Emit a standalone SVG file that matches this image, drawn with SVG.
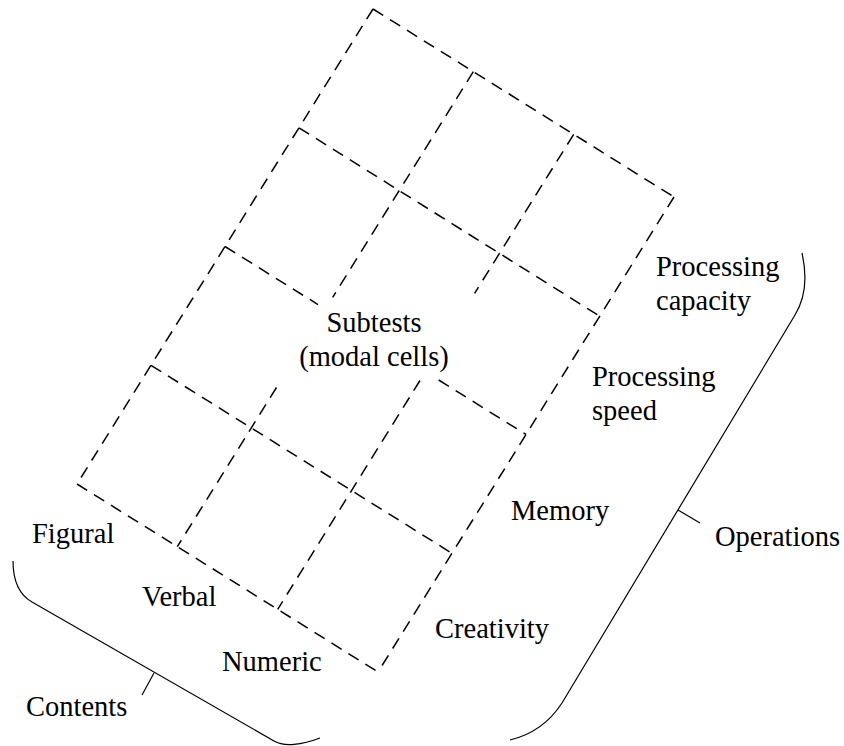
<svg xmlns="http://www.w3.org/2000/svg" width="844" height="746" viewBox="0 0 844 746">
<style>
.d{stroke:#000;stroke-width:1.5;fill:none;stroke-dasharray:12 8}
.b{stroke:#000;stroke-width:1.2;fill:none}
text{font-family:"Liberation Serif","Times New Roman",serif;font-size:28.5px;fill:#000}
</style>
<rect width="844" height="746" fill="#fff"/>
<g id="grid">
<line class="d" x1="373" y1="9" x2="674" y2="197"/>
<line class="d" x1="373" y1="9" x2="77" y2="484"/>
<line class="d" x1="77" y1="484" x2="378" y2="672"/>
<line class="d" x1="674" y1="197" x2="378" y2="672"/>
<line class="d" x1="299" y1="127.8" x2="600" y2="316.4"/>
<line class="d" x1="225" y1="246.5" x2="318" y2="304.6"/>
<line class="d" x1="438.7" y1="380" x2="526" y2="434.5"/>
<line class="d" x1="151" y1="365.3" x2="452" y2="553.3"/>
<line class="d" x1="473.3" y1="71.7" x2="332.7" y2="297.3"/>
<line class="d" x1="276.5" y1="387.5" x2="177.3" y2="546.7"/>
<line class="d" x1="573.7" y1="134.3" x2="474.6" y2="293.3"/>
<line class="d" x1="420" y1="380.5" x2="277.7" y2="609.3"/>
</g>
<g id="connectors">
<path id="contents-brace" class="b" d="M13,561 C13,580 18,594 32,602 L274,741 C284,747 302,745 320,738"/>
<line class="b" x1="154" y1="673" x2="142" y2="695"/>
<path id="operations-brace" class="b" d="M802,253 C807,275 806,297 795,315 L562,703 C549,723 531,735 510,740"/>
<line class="b" x1="678" y1="510" x2="700" y2="523"/>
</g>
<g id="subtests"><text x="374" y="332" text-anchor="middle">Subtests</text><text x="374" y="366" text-anchor="middle">(modal cells)</text></g>
<g id="processing-capacity"><text x="656" y="276">Processing</text><text x="656" y="310">capacity</text></g>
<g id="processing-speed"><text x="592" y="386">Processing</text><text x="592" y="420">speed</text></g>
<g id="memory"><text x="511" y="520">Memory</text></g>
<g id="creativity"><text x="435" y="638">Creativity</text></g>
<g id="operations"><text x="715" y="546">Operations</text></g>
<g id="figural"><text x="32" y="543">Figural</text></g>
<g id="verbal"><text x="142" y="606">Verbal</text></g>
<g id="numeric"><text x="222" y="671">Numeric</text></g>
<g id="contents"><text x="26" y="716">Contents</text></g>
</svg>
